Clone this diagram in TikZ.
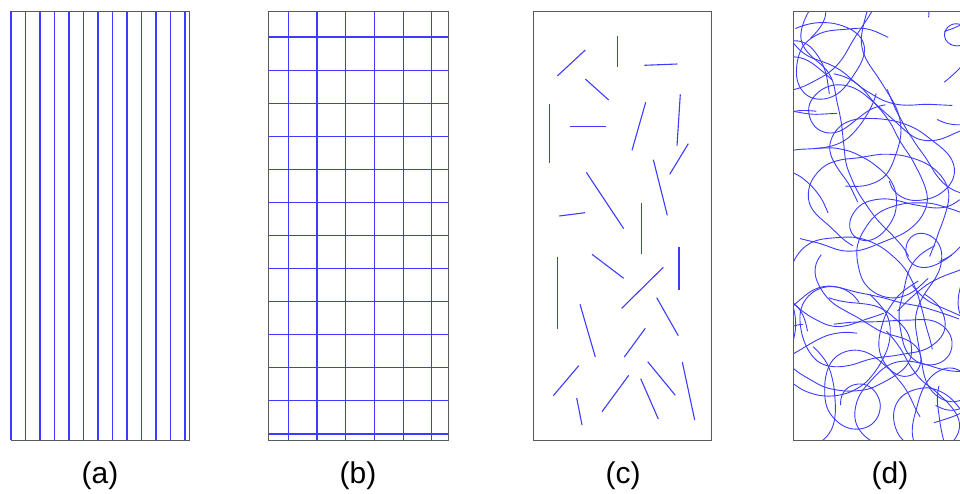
\documentclass[tikz,border=0pt]{standalone}
\usepackage{fontspec}
\setmainfont{Liberation Sans}
\usetikzlibrary{positioning}
\definecolor{cFrame}{HTML}{5A5A5A}
\definecolor{cFib}{HTML}{3C3CFF}
\tikzset{
  frame/.style ={draw=cFrame,line width=1pt},
  fib/.style   ={draw=cFib,line width=1.1pt},
  walk/.style  ={fib,line width=0.9pt,rounded corners=3.5pt,line join=round},
  plbl/.style  ={font=\fontsize{30}{34}\selectfont,inner sep=0pt},
}

\begin{document}
\begin{tikzpicture}[x=1pt,y=-1pt]
\useasboundingbox (0,0) rectangle (960,493);

% ===== (a) aligned long fibres ============================================
\foreach \i in {0,...,12}
  \draw[fib] (11+14.5*\i,11) -- (11+14.5*\i,440);
\draw[frame] (11,11) rectangle (189,440);
\draw[fib] (11,11) -- (11,440);
\node[plbl] (capa) at (100,476) {(a)};

% ===== (b) woven grid =====================================================
\foreach \i in {0,...,5}
  \draw[fib] (288.3+28.7*\i,11) -- (288.3+28.7*\i,440);
\foreach \j in {0,...,12}
  \draw[fib] (268.5,37+33.08*\j) -- (448,37+33.08*\j);
\draw[frame] (268.5,11) rectangle (448,440);
\node[plbl] (capb) at (358,476) {(b)};

% ===== (c) short random fibres ============================================
\foreach \ax/\ay/\bx/\by in {
    557.3/76/585.3/50,     617.7/36/617.7/67.3,   644.3/65.3/677.3/64,
    585.3/79/608.7/100,    680.3/94.3/677/145.7,  549.3/104.3/549.3/163.3,
    570/126.7/605.7/126.7, 645.7/102.3/632/150.3, 688.3/143.7/669.7/174.3,
    653.3/159.7/667.3/215.3, 586.3/172.3/623.7/228.7, 559.3/216/585/212.7,
    641.3/203/641.3/254,   592/254.3/623.7/278.3, 679/246.7/679/289.7,
    557.7/257.3/557.7/329, 663.3/267.3/621.7/308.3, 580/304.3/595.3/357,
    656.7/297.7/678.3/335.7, 645.3/328.3/624.3/357, 578.7/365.7/553.3/395.7,
    647.7/361.7/675.3/395.3, 682.3/362/694.7/420,  576.7/398/582/425,
    628.7/375.3/602/411.7, 640.7/378.7/658.3/419}
  \draw[fib] (\ax,\ay) -- (\bx,\by);
\draw[frame] (533,11) rectangle (711.5,440);
\node[plbl] (capc) at (623,476) {(c)};

% ===== (d) long curled fibres =============================================
% each fibre is a walk whose bending drifts slowly, so it curls into loops
\begin{scope}
  \clip (793,11) rectangle (972,440);
  \pgfmathsetseed{9031}
  \foreach \k in {1,...,40}{
    \pgfmathsetmacro\sx{800+170*rnd}
    \pgfmathsetmacro\sy{18+415*rnd}
    \pgfmathsetmacro\sh{360*rnd}
    \draw[walk] (\sx,\sy)
      \foreach \i [evaluate=\i as \c using {0.93*\cp+7*rand},
                   evaluate=\i as \h using {\hp+\c},
                   remember=\c as \cp (initially 0),
                   remember=\h as \hp (initially \sh)] in {1,...,45}
        { -- ++(\h:7) };
  }
\end{scope}
\draw[frame] (793,11) rectangle (972,440);
\node[plbl] (capd) at (890,476) {(d)};
\end{tikzpicture}
\end{document}
